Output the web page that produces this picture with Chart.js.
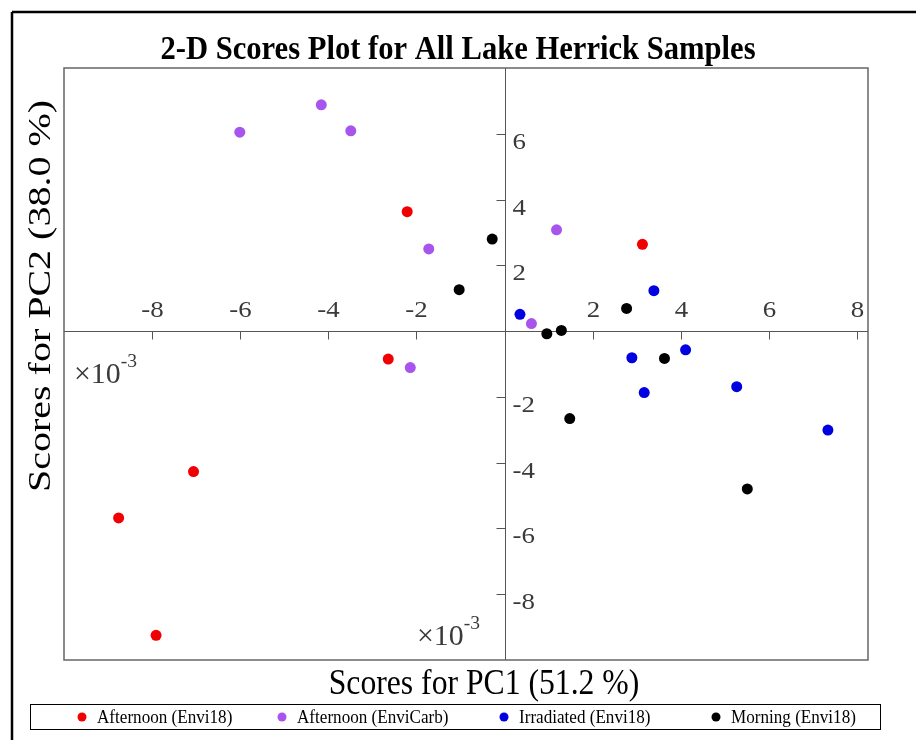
<!DOCTYPE html>
<html>
<head>
<meta charset="utf-8">
<script src="https://cdn.jsdelivr.net/npm/chart.js@4.4.1/dist/chart.umd.min.js"></script>
<style>
  html, body { margin: 0; padding: 0; background: #fff; }
  #wrap { width: 916px; height: 740px; }
</style>
</head>
<body>
<div id="wrap"><canvas id="scores-plot" width="916" height="740"></canvas></div>
<script>
// series (PC1 / PC2 scores, x10^-3)
const seriesNames = ['Afternoon (Envi18)', 'Afternoon (EnviCarb)', 'Irradiated (Envi18)', 'Morning (Envi18)'];
const seriesColors = ['#f00000', '#a855ee', '#0000e0', '#000000'];

const afternoonEnvi18X = [-2.21, 3.13, -2.64, -7.06, -8.76, -7.91];
const afternoonEnvi18Y = [3.63, 2.64, -0.85, -4.27, -5.68, -9.25];

const afternoonEnviCarbX = [-6.01, -4.16, -3.49, -1.72, 1.18, 0.61, -2.14];
const afternoonEnviCarbY = [6.05, 6.88, 6.09, 2.50, 3.08, 0.23, -1.11];

const irradiatedX = [0.35, 3.39, 2.89, 4.11, 3.17, 5.27, 7.34];
const irradiatedY = [0.51, 1.23, -0.81, -0.57, -1.87, -1.69, -3.01];

const morningX = [-0.28, -1.03, 2.77, 0.96, 1.29, 3.63, 1.48, 5.51];
const morningY = [2.80, 1.26, 0.69, -0.08, 0.02, -0.83, -2.66, -4.80];

const xTicks = [-8, -6, -4, -2, 2, 4, 6, 8];
const yTicks = [-8, -6, -4, -2, 2, 4, 6];

const titleText = '2-D Scores Plot for All Lake Herrick Samples';
const xTitle = 'Scores for PC1 (51.2 %)';
const yTitle = 'Scores for PC2 (38.0 %)';

const toPoints = (xs, ys) => xs.map((v, i) => ({ x: v, y: ys[i] }));
const allX = [afternoonEnvi18X, afternoonEnviCarbX, irradiatedX, morningX];
const allY = [afternoonEnvi18Y, afternoonEnviCarbY, irradiatedY, morningY];

const FONT = '"Liberation Serif", "Times New Roman", serif';
const legendSlots = [82, 282, 504, 716]; // dot centres in the legend row

function drawText(ctx, text, x, y, size, opts = {}) {
    ctx.save();
    ctx.translate(x, y);
    if (opts.rotate) ctx.rotate(opts.rotate);
    ctx.scale(opts.sx || 1, 1);
    ctx.font = (opts.bold ? 'bold ' : '') + size + 'px ' + FONT;
    ctx.fillStyle = opts.color || '#000';
    ctx.textAlign = opts.align || 'left';
    ctx.textBaseline = 'alphabetic';
    ctx.fillText(text, 0, 0);
    const w = ctx.measureText(text).width * (opts.sx || 1);
    ctx.restore();
    return w;
}

function line(ctx, x1, y1, x2, y2) {
    ctx.beginPath();
    ctx.moveTo(x1, y1);
    ctx.lineTo(x2, y2);
    ctx.stroke();
}

function expLabel(ctx, x, y) {
    const w = drawText(ctx, '\u00d710', x, y, 29, { color: '#3a3a3a', sx: 1.03 });
    drawText(ctx, '-3', x + w, y - 16, 19, { color: '#3a3a3a', sx: 1.03 });
}

const crossAxes = {
    id: 'crossAxes',
    beforeDraw(chart) {
        const ctx = chart.ctx;
        ctx.save();
        ctx.fillStyle = '#fff';
        ctx.fillRect(0, 0, chart.width, chart.height);
        // figure frame (cut at right / bottom)
        ctx.strokeStyle = '#000';
        ctx.lineWidth = 2.5;
        line(ctx, 12, 12, chart.width + 5, 12);
        line(ctx, 12, 12, 12, chart.height + 5);
        ctx.restore();
    },
    beforeDatasetsDraw(chart) {
        const { ctx, chartArea: a, scales: { x, y } } = chart;
        const x0 = Math.round(x.getPixelForValue(0)) + 0.5;
        const y0 = Math.round(y.getPixelForValue(0)) + 0.5;
        ctx.save();
        ctx.strokeStyle = '#555';
        ctx.lineWidth = 1;
        line(ctx, a.left, y0, a.right, y0);
        line(ctx, x0, a.top, x0, a.bottom);

        xTicks.forEach(v => {
            const px = Math.round(x.getPixelForValue(v)) + 0.5;
            line(ctx, px, y0, px, y0 + 8);
            drawText(ctx, String(v), px, y0 - 15, 24, { align: 'center', color: '#3a3a3a', sx: 1.12 });
        });
        yTicks.forEach(v => {
            const py = Math.round(y.getPixelForValue(v)) + 0.5;
            line(ctx, x0 - 9, py, x0, py);
            drawText(ctx, String(v), x0 + 7, py + 14, 24, { color: '#3a3a3a', sx: 1.12 });
        });

        expLabel(ctx, 74, 383);
        expLabel(ctx, 417, 645);
        ctx.restore();
    },
    afterDatasetsDraw(chart) {
        const { ctx, chartArea: a } = chart;
        ctx.save();
        ctx.strokeStyle = '#666';
        ctx.lineWidth = 1.5;
        ctx.strokeRect(a.left, a.top, a.right - a.left, a.bottom - a.top);

        drawText(ctx, titleText, 458, 59, 34, { align: 'center', bold: true, sx: 0.9 });
        drawText(ctx, xTitle, 484, 694, 36, { align: 'center', sx: 0.88 });
        drawText(ctx, yTitle, 50, 296, 32, { align: 'center', rotate: -Math.PI / 2, sx: 1.25 });

        // legend
        ctx.strokeStyle = '#000';
        ctx.lineWidth = 1;
        ctx.strokeRect(30.5, 704.5, 850, 25);
        chart.data.datasets.forEach((ds, i) => {
            const lx = legendSlots[i];
            ctx.fillStyle = ds.backgroundColor;
            ctx.beginPath();
            ctx.arc(lx, 717, 4.5, 0, Math.PI * 2);
            ctx.fill();
            drawText(ctx, ds.label, lx + 15, 723, 18, { sx: 0.95 });
        });
        ctx.restore();
    }
};

new Chart(document.getElementById('scores-plot').getContext('2d'), {
    type: 'scatter',
    data: {
        datasets: seriesNames.map((name, i) => ({
            label: name,
            data: toPoints(allX[i], allY[i]),
            backgroundColor: seriesColors[i],
            borderWidth: 0,
            pointRadius: 5.5,
            pointHoverRadius: 5.5
        }))
    },
    options: {
        responsive: false,
        animation: false,
        devicePixelRatio: 1,
        layout: { padding: { left: 64, right: 48, top: 68, bottom: 80 } },
        scales: {
            x: { type: 'linear', min: -10, max: 8.25, display: false },
            y: { type: 'linear', min: -10, max: 8, display: false }
        },
        plugins: {
            legend: { display: false },
            title: { display: false },
            tooltip: { enabled: false }
        }
    },
    plugins: [crossAxes]
});
</script>
</body>
</html>
